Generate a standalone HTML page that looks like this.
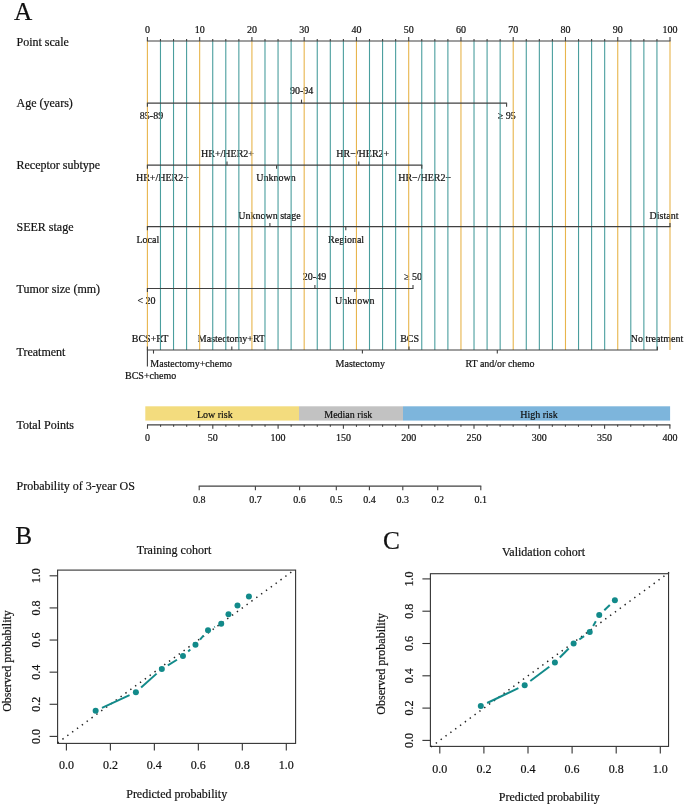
<!DOCTYPE html>
<html><head><meta charset="utf-8"><title>Nomogram</title>
<style>
html,body{margin:0;padding:0;background:#fff;}
svg{display:block;will-change:transform;}
text{font-family:"Liberation Serif", serif;fill:#111;stroke:#111;stroke-width:0.2px;}
</style></head>
<body>
<svg width="685" height="806" viewBox="0 0 685 806">
<rect width="685" height="806" fill="#fff"/>
<text x="14.00" y="19.60" font-size="25.3" text-anchor="start" >A</text>
<text x="16.50" y="45.70" font-size="12.0" text-anchor="start" >Point scale</text>
<text x="16.50" y="106.60" font-size="12.0" text-anchor="start" >Age (years)</text>
<text x="16.50" y="168.80" font-size="12.0" text-anchor="start" >Receptor subtype</text>
<text x="16.50" y="231.00" font-size="12.0" text-anchor="start" >SEER stage</text>
<text x="16.50" y="293.30" font-size="12.0" text-anchor="start" >Tumor size (mm)</text>
<text x="16.50" y="355.60" font-size="12.0" text-anchor="start" >Treatment</text>
<text x="16.50" y="429.10" font-size="12.0" text-anchor="start" >Total Points</text>
<text x="16.50" y="490.40" font-size="12.0" text-anchor="start" >Probability of 3-year OS</text>
<text x="151.50" y="118.90" font-size="10.0" text-anchor="middle" >85-89</text>
<text x="301.70" y="94.40" font-size="10.0" text-anchor="middle" >90-94</text>
<text x="506.80" y="119.10" font-size="10.0" text-anchor="middle" >&#8805; 95</text>
<text x="162.40" y="181.20" font-size="10.0" text-anchor="middle" >HR+/HER2&#8722;</text>
<text x="227.50" y="157.10" font-size="10.0" text-anchor="middle" >HR+/HER2+</text>
<text x="276.00" y="181.20" font-size="10.0" text-anchor="middle" >Unknown</text>
<text x="362.80" y="157.10" font-size="10.0" text-anchor="middle" >HR&#8722;/HER2+</text>
<text x="424.70" y="181.20" font-size="10.0" text-anchor="middle" >HR&#8722;/HER2&#8722;</text>
<text x="147.80" y="242.60" font-size="10.0" text-anchor="middle" >Local</text>
<text x="269.50" y="218.60" font-size="10.0" text-anchor="middle" >Unknown stage</text>
<text x="346.10" y="242.60" font-size="10.0" text-anchor="middle" >Regional</text>
<text x="664.00" y="218.60" font-size="10.0" text-anchor="middle" >Distant</text>
<text x="146.50" y="303.60" font-size="10.0" text-anchor="middle" >&lt; 20</text>
<text x="314.50" y="279.70" font-size="10.0" text-anchor="middle" >20-49</text>
<text x="354.80" y="303.80" font-size="10.0" text-anchor="middle" >Unknown</text>
<text x="413.00" y="279.70" font-size="10.0" text-anchor="middle" >&#8805; 50</text>
<text x="150.10" y="342.30" font-size="10.0" text-anchor="middle" >BCS+RT</text>
<text x="125.00" y="379.30" font-size="10.0" text-anchor="start" >BCS+chemo</text>
<text x="150.30" y="366.50" font-size="10.0" text-anchor="start" >Mastectomy+chemo</text>
<text x="231.50" y="342.30" font-size="10.0" text-anchor="middle" >Mastectomy+RT</text>
<text x="360.30" y="366.70" font-size="10.0" text-anchor="middle" >Mastectomy</text>
<text x="409.60" y="342.20" font-size="10.0" text-anchor="middle" >BCS</text>
<text x="500.00" y="366.90" font-size="10.0" text-anchor="middle" >RT and/or chemo</text>
<text x="657.00" y="342.00" font-size="10.0" text-anchor="middle" >No treatment</text>
<text x="147.40" y="32.60" font-size="10.0" text-anchor="middle" >0</text>
<text x="199.66" y="32.60" font-size="10.0" text-anchor="middle" >10</text>
<text x="251.92" y="32.60" font-size="10.0" text-anchor="middle" >20</text>
<text x="304.18" y="32.60" font-size="10.0" text-anchor="middle" >30</text>
<text x="356.44" y="32.60" font-size="10.0" text-anchor="middle" >40</text>
<text x="408.70" y="32.60" font-size="10.0" text-anchor="middle" >50</text>
<text x="460.96" y="32.60" font-size="10.0" text-anchor="middle" >60</text>
<text x="513.22" y="32.60" font-size="10.0" text-anchor="middle" >70</text>
<text x="565.48" y="32.60" font-size="10.0" text-anchor="middle" >80</text>
<text x="617.74" y="32.60" font-size="10.0" text-anchor="middle" >90</text>
<text x="670.00" y="32.60" font-size="10.0" text-anchor="middle" >100</text>
<line x1="147.40" y1="41.00" x2="147.40" y2="350.00" stroke="#E8B54C" stroke-width="1.1" />
<line x1="160.47" y1="41.00" x2="160.47" y2="350.00" stroke="#4A9E9E" stroke-width="1.1" />
<line x1="173.53" y1="41.00" x2="173.53" y2="350.00" stroke="#4A9E9E" stroke-width="1.1" />
<line x1="186.59" y1="41.00" x2="186.59" y2="350.00" stroke="#4A9E9E" stroke-width="1.1" />
<line x1="199.66" y1="41.00" x2="199.66" y2="350.00" stroke="#E8B54C" stroke-width="1.1" />
<line x1="212.73" y1="41.00" x2="212.73" y2="350.00" stroke="#4A9E9E" stroke-width="1.1" />
<line x1="225.79" y1="41.00" x2="225.79" y2="350.00" stroke="#4A9E9E" stroke-width="1.1" />
<line x1="238.86" y1="41.00" x2="238.86" y2="350.00" stroke="#4A9E9E" stroke-width="1.1" />
<line x1="251.92" y1="41.00" x2="251.92" y2="350.00" stroke="#E8B54C" stroke-width="1.1" />
<line x1="264.99" y1="41.00" x2="264.99" y2="350.00" stroke="#4A9E9E" stroke-width="1.1" />
<line x1="278.05" y1="41.00" x2="278.05" y2="350.00" stroke="#4A9E9E" stroke-width="1.1" />
<line x1="291.12" y1="41.00" x2="291.12" y2="350.00" stroke="#4A9E9E" stroke-width="1.1" />
<line x1="304.18" y1="41.00" x2="304.18" y2="350.00" stroke="#E8B54C" stroke-width="1.1" />
<line x1="317.25" y1="41.00" x2="317.25" y2="350.00" stroke="#4A9E9E" stroke-width="1.1" />
<line x1="330.31" y1="41.00" x2="330.31" y2="350.00" stroke="#4A9E9E" stroke-width="1.1" />
<line x1="343.38" y1="41.00" x2="343.38" y2="350.00" stroke="#4A9E9E" stroke-width="1.1" />
<line x1="356.44" y1="41.00" x2="356.44" y2="350.00" stroke="#E8B54C" stroke-width="1.1" />
<line x1="369.50" y1="41.00" x2="369.50" y2="350.00" stroke="#4A9E9E" stroke-width="1.1" />
<line x1="382.57" y1="41.00" x2="382.57" y2="350.00" stroke="#4A9E9E" stroke-width="1.1" />
<line x1="395.63" y1="41.00" x2="395.63" y2="350.00" stroke="#4A9E9E" stroke-width="1.1" />
<line x1="408.70" y1="41.00" x2="408.70" y2="350.00" stroke="#E8B54C" stroke-width="1.1" />
<line x1="421.76" y1="41.00" x2="421.76" y2="350.00" stroke="#4A9E9E" stroke-width="1.1" />
<line x1="434.83" y1="41.00" x2="434.83" y2="350.00" stroke="#4A9E9E" stroke-width="1.1" />
<line x1="447.89" y1="41.00" x2="447.89" y2="350.00" stroke="#4A9E9E" stroke-width="1.1" />
<line x1="460.96" y1="41.00" x2="460.96" y2="350.00" stroke="#E8B54C" stroke-width="1.1" />
<line x1="474.02" y1="41.00" x2="474.02" y2="350.00" stroke="#4A9E9E" stroke-width="1.1" />
<line x1="487.09" y1="41.00" x2="487.09" y2="350.00" stroke="#4A9E9E" stroke-width="1.1" />
<line x1="500.15" y1="41.00" x2="500.15" y2="350.00" stroke="#4A9E9E" stroke-width="1.1" />
<line x1="513.22" y1="41.00" x2="513.22" y2="350.00" stroke="#E8B54C" stroke-width="1.1" />
<line x1="526.28" y1="41.00" x2="526.28" y2="350.00" stroke="#4A9E9E" stroke-width="1.1" />
<line x1="539.35" y1="41.00" x2="539.35" y2="350.00" stroke="#4A9E9E" stroke-width="1.1" />
<line x1="552.41" y1="41.00" x2="552.41" y2="350.00" stroke="#4A9E9E" stroke-width="1.1" />
<line x1="565.48" y1="41.00" x2="565.48" y2="350.00" stroke="#E8B54C" stroke-width="1.1" />
<line x1="578.54" y1="41.00" x2="578.54" y2="350.00" stroke="#4A9E9E" stroke-width="1.1" />
<line x1="591.61" y1="41.00" x2="591.61" y2="350.00" stroke="#4A9E9E" stroke-width="1.1" />
<line x1="604.67" y1="41.00" x2="604.67" y2="350.00" stroke="#4A9E9E" stroke-width="1.1" />
<line x1="617.74" y1="41.00" x2="617.74" y2="350.00" stroke="#E8B54C" stroke-width="1.1" />
<line x1="630.80" y1="41.00" x2="630.80" y2="350.00" stroke="#4A9E9E" stroke-width="1.1" />
<line x1="643.87" y1="41.00" x2="643.87" y2="350.00" stroke="#4A9E9E" stroke-width="1.1" />
<line x1="656.94" y1="41.00" x2="656.94" y2="350.00" stroke="#4A9E9E" stroke-width="1.1" />
<line x1="670.00" y1="41.00" x2="670.00" y2="350.00" stroke="#E8B54C" stroke-width="1.1" />
<line x1="146.90" y1="41.00" x2="670.50" y2="41.00" stroke="#404040" stroke-width="1.2" />
<line x1="147.40" y1="41.00" x2="147.40" y2="37.00" stroke="#404040" stroke-width="1.1" />
<line x1="160.47" y1="41.00" x2="160.47" y2="39.00" stroke="#404040" stroke-width="1.1" />
<line x1="173.53" y1="41.00" x2="173.53" y2="39.00" stroke="#404040" stroke-width="1.1" />
<line x1="186.59" y1="41.00" x2="186.59" y2="39.00" stroke="#404040" stroke-width="1.1" />
<line x1="199.66" y1="41.00" x2="199.66" y2="37.00" stroke="#404040" stroke-width="1.1" />
<line x1="212.73" y1="41.00" x2="212.73" y2="39.00" stroke="#404040" stroke-width="1.1" />
<line x1="225.79" y1="41.00" x2="225.79" y2="39.00" stroke="#404040" stroke-width="1.1" />
<line x1="238.86" y1="41.00" x2="238.86" y2="39.00" stroke="#404040" stroke-width="1.1" />
<line x1="251.92" y1="41.00" x2="251.92" y2="37.00" stroke="#404040" stroke-width="1.1" />
<line x1="264.99" y1="41.00" x2="264.99" y2="39.00" stroke="#404040" stroke-width="1.1" />
<line x1="278.05" y1="41.00" x2="278.05" y2="39.00" stroke="#404040" stroke-width="1.1" />
<line x1="291.12" y1="41.00" x2="291.12" y2="39.00" stroke="#404040" stroke-width="1.1" />
<line x1="304.18" y1="41.00" x2="304.18" y2="37.00" stroke="#404040" stroke-width="1.1" />
<line x1="317.25" y1="41.00" x2="317.25" y2="39.00" stroke="#404040" stroke-width="1.1" />
<line x1="330.31" y1="41.00" x2="330.31" y2="39.00" stroke="#404040" stroke-width="1.1" />
<line x1="343.38" y1="41.00" x2="343.38" y2="39.00" stroke="#404040" stroke-width="1.1" />
<line x1="356.44" y1="41.00" x2="356.44" y2="37.00" stroke="#404040" stroke-width="1.1" />
<line x1="369.50" y1="41.00" x2="369.50" y2="39.00" stroke="#404040" stroke-width="1.1" />
<line x1="382.57" y1="41.00" x2="382.57" y2="39.00" stroke="#404040" stroke-width="1.1" />
<line x1="395.63" y1="41.00" x2="395.63" y2="39.00" stroke="#404040" stroke-width="1.1" />
<line x1="408.70" y1="41.00" x2="408.70" y2="37.00" stroke="#404040" stroke-width="1.1" />
<line x1="421.76" y1="41.00" x2="421.76" y2="39.00" stroke="#404040" stroke-width="1.1" />
<line x1="434.83" y1="41.00" x2="434.83" y2="39.00" stroke="#404040" stroke-width="1.1" />
<line x1="447.89" y1="41.00" x2="447.89" y2="39.00" stroke="#404040" stroke-width="1.1" />
<line x1="460.96" y1="41.00" x2="460.96" y2="37.00" stroke="#404040" stroke-width="1.1" />
<line x1="474.02" y1="41.00" x2="474.02" y2="39.00" stroke="#404040" stroke-width="1.1" />
<line x1="487.09" y1="41.00" x2="487.09" y2="39.00" stroke="#404040" stroke-width="1.1" />
<line x1="500.15" y1="41.00" x2="500.15" y2="39.00" stroke="#404040" stroke-width="1.1" />
<line x1="513.22" y1="41.00" x2="513.22" y2="37.00" stroke="#404040" stroke-width="1.1" />
<line x1="526.28" y1="41.00" x2="526.28" y2="39.00" stroke="#404040" stroke-width="1.1" />
<line x1="539.35" y1="41.00" x2="539.35" y2="39.00" stroke="#404040" stroke-width="1.1" />
<line x1="552.41" y1="41.00" x2="552.41" y2="39.00" stroke="#404040" stroke-width="1.1" />
<line x1="565.48" y1="41.00" x2="565.48" y2="37.00" stroke="#404040" stroke-width="1.1" />
<line x1="578.54" y1="41.00" x2="578.54" y2="39.00" stroke="#404040" stroke-width="1.1" />
<line x1="591.61" y1="41.00" x2="591.61" y2="39.00" stroke="#404040" stroke-width="1.1" />
<line x1="604.67" y1="41.00" x2="604.67" y2="39.00" stroke="#404040" stroke-width="1.1" />
<line x1="617.74" y1="41.00" x2="617.74" y2="37.00" stroke="#404040" stroke-width="1.1" />
<line x1="630.80" y1="41.00" x2="630.80" y2="39.00" stroke="#404040" stroke-width="1.1" />
<line x1="643.87" y1="41.00" x2="643.87" y2="39.00" stroke="#404040" stroke-width="1.1" />
<line x1="656.94" y1="41.00" x2="656.94" y2="39.00" stroke="#404040" stroke-width="1.1" />
<line x1="670.00" y1="41.00" x2="670.00" y2="37.00" stroke="#404040" stroke-width="1.1" />
<line x1="146.90" y1="103.20" x2="507.10" y2="103.20" stroke="#404040" stroke-width="1.2" />
<line x1="147.40" y1="103.20" x2="147.40" y2="106.80" stroke="#404040" stroke-width="1.1" />
<line x1="301.50" y1="103.20" x2="301.50" y2="99.60" stroke="#404040" stroke-width="1.1" />
<line x1="506.60" y1="103.20" x2="506.60" y2="106.80" stroke="#404040" stroke-width="1.1" />
<line x1="146.90" y1="165.20" x2="422.30" y2="165.20" stroke="#404040" stroke-width="1.2" />
<line x1="147.40" y1="165.20" x2="147.40" y2="168.80" stroke="#404040" stroke-width="1.1" />
<line x1="227.00" y1="165.20" x2="227.00" y2="161.60" stroke="#404040" stroke-width="1.1" />
<line x1="276.60" y1="165.20" x2="276.60" y2="168.80" stroke="#404040" stroke-width="1.1" />
<line x1="358.80" y1="165.20" x2="358.80" y2="161.60" stroke="#404040" stroke-width="1.1" />
<line x1="421.80" y1="165.20" x2="421.80" y2="168.80" stroke="#404040" stroke-width="1.1" />
<line x1="146.90" y1="226.60" x2="670.50" y2="226.60" stroke="#404040" stroke-width="1.2" />
<line x1="147.40" y1="226.60" x2="147.40" y2="230.20" stroke="#404040" stroke-width="1.1" />
<line x1="269.90" y1="226.60" x2="269.90" y2="223.00" stroke="#404040" stroke-width="1.1" />
<line x1="345.80" y1="226.60" x2="345.80" y2="230.20" stroke="#404040" stroke-width="1.1" />
<line x1="670.00" y1="226.60" x2="670.00" y2="223.00" stroke="#404040" stroke-width="1.1" />
<line x1="146.90" y1="288.50" x2="413.50" y2="288.50" stroke="#404040" stroke-width="1.2" />
<line x1="147.40" y1="288.50" x2="147.40" y2="292.10" stroke="#404040" stroke-width="1.1" />
<line x1="314.90" y1="288.50" x2="314.90" y2="284.90" stroke="#404040" stroke-width="1.1" />
<line x1="354.80" y1="288.50" x2="354.80" y2="292.10" stroke="#404040" stroke-width="1.1" />
<line x1="413.00" y1="288.50" x2="413.00" y2="284.90" stroke="#404040" stroke-width="1.1" />
<line x1="146.90" y1="350.00" x2="657.90" y2="350.00" stroke="#404040" stroke-width="1.2" />
<line x1="147.40" y1="350.00" x2="147.40" y2="346.40" stroke="#404040" stroke-width="1.1" />
<line x1="147.40" y1="350.00" x2="147.40" y2="366.50" stroke="#404040" stroke-width="1.1" />
<line x1="153.50" y1="350.00" x2="153.50" y2="353.60" stroke="#404040" stroke-width="1.1" />
<line x1="231.80" y1="350.00" x2="231.80" y2="346.40" stroke="#404040" stroke-width="1.1" />
<line x1="362.40" y1="350.00" x2="362.40" y2="353.60" stroke="#404040" stroke-width="1.1" />
<line x1="409.00" y1="350.00" x2="409.00" y2="346.40" stroke="#404040" stroke-width="1.1" />
<line x1="497.30" y1="350.00" x2="497.30" y2="353.60" stroke="#404040" stroke-width="1.1" />
<line x1="657.40" y1="350.00" x2="657.40" y2="346.40" stroke="#404040" stroke-width="1.1" />
<rect x="145.3" y="406.3" width="153.7" height="14.3" fill="#F3DC7E"/>
<rect x="299.0" y="406.3" width="104.0" height="14.3" fill="#C2C2C2"/>
<rect x="403.0" y="406.3" width="267.1" height="14.3" fill="#7DB5DC"/>
<text x="214.80" y="418.30" font-size="10.0" text-anchor="middle" >Low risk</text>
<text x="348.30" y="418.30" font-size="10.0" text-anchor="middle" >Median risk</text>
<text x="539.00" y="418.30" font-size="10.0" text-anchor="middle" >High risk</text>
<line x1="147.00" y1="424.80" x2="670.40" y2="424.80" stroke="#404040" stroke-width="1.2" />
<line x1="147.50" y1="424.80" x2="147.50" y2="428.80" stroke="#404040" stroke-width="1.1" />
<line x1="160.56" y1="424.80" x2="160.56" y2="426.80" stroke="#404040" stroke-width="1.1" />
<line x1="173.62" y1="424.80" x2="173.62" y2="426.80" stroke="#404040" stroke-width="1.1" />
<line x1="186.68" y1="424.80" x2="186.68" y2="426.80" stroke="#404040" stroke-width="1.1" />
<line x1="199.74" y1="424.80" x2="199.74" y2="426.80" stroke="#404040" stroke-width="1.1" />
<line x1="212.80" y1="424.80" x2="212.80" y2="428.80" stroke="#404040" stroke-width="1.1" />
<line x1="225.86" y1="424.80" x2="225.86" y2="426.80" stroke="#404040" stroke-width="1.1" />
<line x1="238.92" y1="424.80" x2="238.92" y2="426.80" stroke="#404040" stroke-width="1.1" />
<line x1="251.98" y1="424.80" x2="251.98" y2="426.80" stroke="#404040" stroke-width="1.1" />
<line x1="265.04" y1="424.80" x2="265.04" y2="426.80" stroke="#404040" stroke-width="1.1" />
<line x1="278.10" y1="424.80" x2="278.10" y2="428.80" stroke="#404040" stroke-width="1.1" />
<line x1="291.16" y1="424.80" x2="291.16" y2="426.80" stroke="#404040" stroke-width="1.1" />
<line x1="304.22" y1="424.80" x2="304.22" y2="426.80" stroke="#404040" stroke-width="1.1" />
<line x1="317.28" y1="424.80" x2="317.28" y2="426.80" stroke="#404040" stroke-width="1.1" />
<line x1="330.34" y1="424.80" x2="330.34" y2="426.80" stroke="#404040" stroke-width="1.1" />
<line x1="343.40" y1="424.80" x2="343.40" y2="428.80" stroke="#404040" stroke-width="1.1" />
<line x1="356.46" y1="424.80" x2="356.46" y2="426.80" stroke="#404040" stroke-width="1.1" />
<line x1="369.52" y1="424.80" x2="369.52" y2="426.80" stroke="#404040" stroke-width="1.1" />
<line x1="382.58" y1="424.80" x2="382.58" y2="426.80" stroke="#404040" stroke-width="1.1" />
<line x1="395.64" y1="424.80" x2="395.64" y2="426.80" stroke="#404040" stroke-width="1.1" />
<line x1="408.70" y1="424.80" x2="408.70" y2="428.80" stroke="#404040" stroke-width="1.1" />
<line x1="421.76" y1="424.80" x2="421.76" y2="426.80" stroke="#404040" stroke-width="1.1" />
<line x1="434.82" y1="424.80" x2="434.82" y2="426.80" stroke="#404040" stroke-width="1.1" />
<line x1="447.88" y1="424.80" x2="447.88" y2="426.80" stroke="#404040" stroke-width="1.1" />
<line x1="460.94" y1="424.80" x2="460.94" y2="426.80" stroke="#404040" stroke-width="1.1" />
<line x1="474.00" y1="424.80" x2="474.00" y2="428.80" stroke="#404040" stroke-width="1.1" />
<line x1="487.06" y1="424.80" x2="487.06" y2="426.80" stroke="#404040" stroke-width="1.1" />
<line x1="500.12" y1="424.80" x2="500.12" y2="426.80" stroke="#404040" stroke-width="1.1" />
<line x1="513.18" y1="424.80" x2="513.18" y2="426.80" stroke="#404040" stroke-width="1.1" />
<line x1="526.24" y1="424.80" x2="526.24" y2="426.80" stroke="#404040" stroke-width="1.1" />
<line x1="539.30" y1="424.80" x2="539.30" y2="428.80" stroke="#404040" stroke-width="1.1" />
<line x1="552.36" y1="424.80" x2="552.36" y2="426.80" stroke="#404040" stroke-width="1.1" />
<line x1="565.42" y1="424.80" x2="565.42" y2="426.80" stroke="#404040" stroke-width="1.1" />
<line x1="578.48" y1="424.80" x2="578.48" y2="426.80" stroke="#404040" stroke-width="1.1" />
<line x1="591.54" y1="424.80" x2="591.54" y2="426.80" stroke="#404040" stroke-width="1.1" />
<line x1="604.60" y1="424.80" x2="604.60" y2="428.80" stroke="#404040" stroke-width="1.1" />
<line x1="617.66" y1="424.80" x2="617.66" y2="426.80" stroke="#404040" stroke-width="1.1" />
<line x1="630.72" y1="424.80" x2="630.72" y2="426.80" stroke="#404040" stroke-width="1.1" />
<line x1="643.78" y1="424.80" x2="643.78" y2="426.80" stroke="#404040" stroke-width="1.1" />
<line x1="656.84" y1="424.80" x2="656.84" y2="426.80" stroke="#404040" stroke-width="1.1" />
<line x1="669.90" y1="424.80" x2="669.90" y2="428.80" stroke="#404040" stroke-width="1.1" />
<text x="147.50" y="440.50" font-size="10.0" text-anchor="middle" >0</text>
<text x="212.80" y="440.50" font-size="10.0" text-anchor="middle" >50</text>
<text x="278.10" y="440.50" font-size="10.0" text-anchor="middle" >100</text>
<text x="343.40" y="440.50" font-size="10.0" text-anchor="middle" >150</text>
<text x="408.70" y="440.50" font-size="10.0" text-anchor="middle" >200</text>
<text x="474.00" y="440.50" font-size="10.0" text-anchor="middle" >250</text>
<text x="539.30" y="440.50" font-size="10.0" text-anchor="middle" >300</text>
<text x="604.60" y="440.50" font-size="10.0" text-anchor="middle" >350</text>
<text x="669.90" y="440.50" font-size="10.0" text-anchor="middle" >400</text>
<line x1="198.70" y1="486.20" x2="481.30" y2="486.20" stroke="#404040" stroke-width="1.2" />
<line x1="199.20" y1="486.20" x2="199.20" y2="490.20" stroke="#404040" stroke-width="1.1" />
<text x="199.20" y="502.60" font-size="10.0" text-anchor="middle" >0.8</text>
<line x1="255.40" y1="486.20" x2="255.40" y2="490.20" stroke="#404040" stroke-width="1.1" />
<text x="255.40" y="502.60" font-size="10.0" text-anchor="middle" >0.7</text>
<line x1="299.60" y1="486.20" x2="299.60" y2="490.20" stroke="#404040" stroke-width="1.1" />
<text x="299.60" y="502.60" font-size="10.0" text-anchor="middle" >0.6</text>
<line x1="336.30" y1="486.20" x2="336.30" y2="490.20" stroke="#404040" stroke-width="1.1" />
<text x="336.30" y="502.60" font-size="10.0" text-anchor="middle" >0.5</text>
<line x1="369.40" y1="486.20" x2="369.40" y2="490.20" stroke="#404040" stroke-width="1.1" />
<text x="369.40" y="502.60" font-size="10.0" text-anchor="middle" >0.4</text>
<line x1="402.80" y1="486.20" x2="402.80" y2="490.20" stroke="#404040" stroke-width="1.1" />
<text x="402.80" y="502.60" font-size="10.0" text-anchor="middle" >0.3</text>
<line x1="437.70" y1="486.20" x2="437.70" y2="490.20" stroke="#404040" stroke-width="1.1" />
<text x="437.70" y="502.60" font-size="10.0" text-anchor="middle" >0.2</text>
<line x1="480.80" y1="486.20" x2="480.80" y2="490.20" stroke="#404040" stroke-width="1.1" />
<text x="480.80" y="502.60" font-size="10.0" text-anchor="middle" >0.1</text>
<text x="15.30" y="543.90" font-size="25.3" text-anchor="start" >B</text>
<text x="174.00" y="554.30" font-size="12.0" text-anchor="middle" >Training cohort</text>
<rect x="57.6" y="570.1" width="238.00" height="173.30" fill="none" stroke="#333" stroke-width="1.1"/>
<line x1="66.40" y1="743.40" x2="66.40" y2="750.40" stroke="#333" stroke-width="1.1" />
<text x="66.40" y="769.30" font-size="12.0" text-anchor="middle" >0.0</text>
<line x1="57.60" y1="736.40" x2="49.60" y2="736.40" stroke="#333" stroke-width="1.1" />
<text transform="translate(39.90,736.40) rotate(-90)" font-size="12" text-anchor="middle">0.0</text>
<line x1="110.38" y1="743.40" x2="110.38" y2="750.40" stroke="#333" stroke-width="1.1" />
<text x="110.38" y="769.30" font-size="12.0" text-anchor="middle" >0.2</text>
<line x1="57.60" y1="704.28" x2="49.60" y2="704.28" stroke="#333" stroke-width="1.1" />
<text transform="translate(39.90,704.28) rotate(-90)" font-size="12" text-anchor="middle">0.2</text>
<line x1="154.36" y1="743.40" x2="154.36" y2="750.40" stroke="#333" stroke-width="1.1" />
<text x="154.36" y="769.30" font-size="12.0" text-anchor="middle" >0.4</text>
<line x1="57.60" y1="672.16" x2="49.60" y2="672.16" stroke="#333" stroke-width="1.1" />
<text transform="translate(39.90,672.16) rotate(-90)" font-size="12" text-anchor="middle">0.4</text>
<line x1="198.34" y1="743.40" x2="198.34" y2="750.40" stroke="#333" stroke-width="1.1" />
<text x="198.34" y="769.30" font-size="12.0" text-anchor="middle" >0.6</text>
<line x1="57.60" y1="640.04" x2="49.60" y2="640.04" stroke="#333" stroke-width="1.1" />
<text transform="translate(39.90,640.04) rotate(-90)" font-size="12" text-anchor="middle">0.6</text>
<line x1="242.32" y1="743.40" x2="242.32" y2="750.40" stroke="#333" stroke-width="1.1" />
<text x="242.32" y="769.30" font-size="12.0" text-anchor="middle" >0.8</text>
<line x1="57.60" y1="607.92" x2="49.60" y2="607.92" stroke="#333" stroke-width="1.1" />
<text transform="translate(39.90,607.92) rotate(-90)" font-size="12" text-anchor="middle">0.8</text>
<line x1="286.30" y1="743.40" x2="286.30" y2="750.40" stroke="#333" stroke-width="1.1" />
<text x="286.30" y="769.30" font-size="12.0" text-anchor="middle" >1.0</text>
<line x1="57.60" y1="575.80" x2="49.60" y2="575.80" stroke="#333" stroke-width="1.1" />
<text transform="translate(39.90,575.80) rotate(-90)" font-size="12" text-anchor="middle">1.0</text>
<text x="176.70" y="797.80" font-size="12.0" text-anchor="middle" >Predicted probability</text>
<text transform="translate(10.90,661.00) rotate(-90)" font-size="12" text-anchor="middle">Observed probability</text>
<line x1="57.60" y1="742.82" x2="295.10" y2="569.38" stroke="#222" stroke-width="1.5" stroke-dasharray="1.4 4.6" stroke-linecap="butt"/>
<line x1="102.00" y1="707.92" x2="129.54" y2="695.18" stroke="#128A8A" stroke-width="2.0" />
<line x1="141.10" y1="687.56" x2="156.63" y2="673.62" stroke="#128A8A" stroke-width="2.0" />
<line x1="167.82" y1="665.31" x2="176.97" y2="659.74" stroke="#128A8A" stroke-width="2.0" />
<line x1="188.16" y1="651.43" x2="190.27" y2="649.53" stroke="#128A8A" stroke-width="2.0" />
<line x1="200.04" y1="639.54" x2="203.46" y2="635.56" stroke="#128A8A" stroke-width="2.0" />
<line x1="214.28" y1="627.12" x2="214.95" y2="626.78" stroke="#128A8A" stroke-width="2.0" />
<circle cx="95.65" cy="710.86" r="3.0" fill="#128A8A"/>
<circle cx="135.89" cy="692.24" r="3.0" fill="#128A8A"/>
<circle cx="161.84" cy="668.95" r="3.0" fill="#128A8A"/>
<circle cx="182.95" cy="656.10" r="3.0" fill="#128A8A"/>
<circle cx="195.48" cy="644.86" r="3.0" fill="#128A8A"/>
<circle cx="208.02" cy="630.24" r="3.0" fill="#128A8A"/>
<circle cx="221.21" cy="623.66" r="3.0" fill="#128A8A"/>
<circle cx="228.47" cy="614.34" r="3.0" fill="#128A8A"/>
<circle cx="237.48" cy="605.51" r="3.0" fill="#128A8A"/>
<circle cx="248.92" cy="596.52" r="3.0" fill="#128A8A"/>
<text x="383.00" y="549.00" font-size="25.3" text-anchor="start" >C</text>
<text x="543.50" y="556.40" font-size="12.0" text-anchor="middle" >Validation cohort</text>
<rect x="430.4" y="573.7" width="238.15" height="172.70" fill="none" stroke="#333" stroke-width="1.1"/>
<line x1="439.80" y1="746.40" x2="439.80" y2="753.40" stroke="#333" stroke-width="1.1" />
<text x="439.80" y="772.50" font-size="12.0" text-anchor="middle" >0.0</text>
<line x1="430.40" y1="740.40" x2="422.40" y2="740.40" stroke="#333" stroke-width="1.1" />
<text transform="translate(413.00,740.40) rotate(-90)" font-size="12" text-anchor="middle">0.0</text>
<line x1="483.90" y1="746.40" x2="483.90" y2="753.40" stroke="#333" stroke-width="1.1" />
<text x="483.90" y="772.50" font-size="12.0" text-anchor="middle" >0.2</text>
<line x1="430.40" y1="708.10" x2="422.40" y2="708.10" stroke="#333" stroke-width="1.1" />
<text transform="translate(413.00,708.10) rotate(-90)" font-size="12" text-anchor="middle">0.2</text>
<line x1="528.00" y1="746.40" x2="528.00" y2="753.40" stroke="#333" stroke-width="1.1" />
<text x="528.00" y="772.50" font-size="12.0" text-anchor="middle" >0.4</text>
<line x1="430.40" y1="675.80" x2="422.40" y2="675.80" stroke="#333" stroke-width="1.1" />
<text transform="translate(413.00,675.80) rotate(-90)" font-size="12" text-anchor="middle">0.4</text>
<line x1="572.10" y1="746.40" x2="572.10" y2="753.40" stroke="#333" stroke-width="1.1" />
<text x="572.10" y="772.50" font-size="12.0" text-anchor="middle" >0.6</text>
<line x1="430.40" y1="643.50" x2="422.40" y2="643.50" stroke="#333" stroke-width="1.1" />
<text transform="translate(413.00,643.50) rotate(-90)" font-size="12" text-anchor="middle">0.6</text>
<line x1="616.20" y1="746.40" x2="616.20" y2="753.40" stroke="#333" stroke-width="1.1" />
<text x="616.20" y="772.50" font-size="12.0" text-anchor="middle" >0.8</text>
<line x1="430.40" y1="611.20" x2="422.40" y2="611.20" stroke="#333" stroke-width="1.1" />
<text transform="translate(413.00,611.20) rotate(-90)" font-size="12" text-anchor="middle">0.8</text>
<line x1="660.30" y1="746.40" x2="660.30" y2="753.40" stroke="#333" stroke-width="1.1" />
<text x="660.30" y="772.50" font-size="12.0" text-anchor="middle" >1.0</text>
<line x1="430.40" y1="578.90" x2="422.40" y2="578.90" stroke="#333" stroke-width="1.1" />
<text transform="translate(413.00,578.90) rotate(-90)" font-size="12" text-anchor="middle">1.0</text>
<text x="549.30" y="800.60" font-size="12.0" text-anchor="middle" >Predicted probability</text>
<text transform="translate(384.60,663.80) rotate(-90)" font-size="12" text-anchor="middle">Observed probability</text>
<line x1="430.98" y1="746.86" x2="669.12" y2="572.44" stroke="#222" stroke-width="1.5" stroke-dasharray="1.4 4.6" stroke-linecap="butt"/>
<line x1="487.14" y1="703.00" x2="518.37" y2="688.17" stroke="#128A8A" stroke-width="2.0" />
<line x1="530.30" y1="680.97" x2="549.30" y2="666.75" stroke="#128A8A" stroke-width="2.0" />
<line x1="559.81" y1="657.57" x2="568.74" y2="648.49" stroke="#128A8A" stroke-width="2.0" />
<line x1="579.34" y1="639.44" x2="584.04" y2="636.09" stroke="#128A8A" stroke-width="2.0" />
<line x1="593.16" y1="625.92" x2="595.81" y2="621.19" stroke="#128A8A" stroke-width="2.0" />
<line x1="604.30" y1="610.26" x2="609.80" y2="605.04" stroke="#128A8A" stroke-width="2.0" />
<circle cx="480.81" cy="706.00" r="3.0" fill="#128A8A"/>
<circle cx="524.69" cy="685.17" r="3.0" fill="#128A8A"/>
<circle cx="554.90" cy="662.56" r="3.0" fill="#128A8A"/>
<circle cx="573.64" cy="643.50" r="3.0" fill="#128A8A"/>
<circle cx="589.74" cy="632.03" r="3.0" fill="#128A8A"/>
<circle cx="599.22" cy="615.08" r="3.0" fill="#128A8A"/>
<circle cx="614.88" cy="600.22" r="3.0" fill="#128A8A"/>
</svg>
</body></html>
